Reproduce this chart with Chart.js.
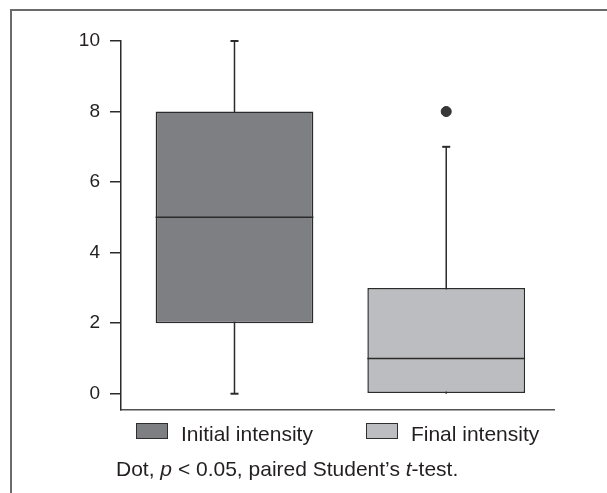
<!DOCTYPE html>
<html>
<head>
<meta charset="utf-8">
<script src="https://cdn.jsdelivr.net/npm/chart.js@4.4.1/dist/chart.umd.min.js"></script>
<style>
  html, body { margin: 0; padding: 0; background: #fff; }
  body { width: 607px; height: 493px; position: relative; overflow: hidden;
         font-family: 'Liberation Sans', Arial, sans-serif; color: #231f20; }
  #frame { position: absolute; left: 10px; top: 9px; width: 640px; height: 520px;
           border-top: 2px solid #6b6b6b; border-left: 2px solid #6b6b6b; }
  #wrap { position: absolute; left: 0; top: 0; width: 607px; height: 431px; }
  #legend { position: absolute; left: 136px; top: 423px; display: flex; align-items: flex-start;
            font-size: 21px; line-height: 21px; white-space: nowrap; }
  .item { display: flex; align-items: flex-start; margin-right: 53px; }
  .swatch { box-sizing: border-box; width: 32px; height: 16px; border: 1.5px solid #2e2e2e; margin-right: 13px; }
  #caption { position: absolute; left: 116px; top: 458px; font-size: 21px; line-height: 21px; white-space: nowrap; }
</style>
</head>
<body>
<div id="frame"></div>
<div id="wrap"><canvas id="box-chart"></canvas></div>
<div id="legend"></div>
<div id="caption">Dot, <i>p</i> &lt; 0.05, paired Student’s <i>t</i>-test.</div>
<script>
// box plot summary per group
var groups = ['Initial intensity', 'Final intensity'];
var positions = [1, 2];
var mins = [0, 0];
var q1s = [2, 0];
var medians = [5, 1];
var q3s = [8, 3];
var maxs = [10, 7];
var outliers = [[], [8]];
var boxColors = ['#7e7f83', '#bcbdc0'];
var yTicks = [0, 2, 4, 6, 8, 10];

var lineColor = '#2b2b2b';

// whiskers (behind boxes) and medians (on top)
var boxPlotLines = {
    id: 'boxPlotLines',
    beforeDatasetsDraw(chart) {
        var ctx = chart.ctx, x = chart.scales.x, y = chart.scales.y;
        ctx.save();
        ctx.strokeStyle = lineColor;
        groups.forEach((g, i) => {
            var px = x.getPixelForValue(positions[i]);
            ctx.lineWidth = 1.5;
            ctx.beginPath();
            ctx.moveTo(px, y.getPixelForValue(mins[i]));
            ctx.lineTo(px, y.getPixelForValue(maxs[i]));
            ctx.stroke();
            ctx.lineWidth = 2;
            [[mins[i], q1s[i]], [maxs[i], q3s[i]]].forEach(([v, edge]) => {
                if (v === edge) return;
                var py = y.getPixelForValue(v);
                ctx.beginPath();
                ctx.moveTo(px - 4, py);
                ctx.lineTo(px + 4, py);
                ctx.stroke();
            });
        });
        ctx.restore();
    },
    afterDatasetsDraw(chart) {
        var ctx = chart.ctx, y = chart.scales.y;
        ctx.save();
        ctx.strokeStyle = lineColor;
        ctx.lineWidth = 1.5;
        groups.forEach((g, i) => {
            var bar = chart.getDatasetMeta(i).data[0];
            var props = bar.getProps(['x', 'width'], true);
            var py = y.getPixelForValue(medians[i]);
            ctx.beginPath();
            ctx.moveTo(props.x - props.width / 2, py);
            ctx.lineTo(props.x + props.width / 2, py);
            ctx.stroke();
        });
        ctx.restore();
    }
};

var boxDatasets = groups.map((label, i) => ({
    type: 'bar',
    label: label,
    data: [{ x: positions[i], y: [q1s[i], q3s[i]] }],
    backgroundColor: boxColors[i],
    borderColor: lineColor,
    borderWidth: 1.5,
    borderSkipped: false,
    grouped: false,
    categoryPercentage: 1,
    barPercentage: 0.745
}));

var outlierPoints = [];
outliers.forEach((vals, i) => vals.forEach(v => outlierPoints.push({ x: positions[i], y: v })));

var ctx = document.getElementById('box-chart').getContext('2d');

var boxChart = new Chart(ctx, {
    type: 'bar',
    data: {
        datasets: boxDatasets.concat([{
            type: 'scatter',
            label: 'Outliers',
            data: outlierPoints,
            pointRadius: 5,
            pointBackgroundColor: '#383838',
            pointBorderColor: '#2b2b2b',
            pointBorderWidth: 1
        }])
    },
    options: {
        responsive: true,
        maintainAspectRatio: false,
        animation: false,
        layout: {
            padding: { top: 41, right: 53, bottom: 11, left: 0 }
        },
        plugins: {
            legend: { display: false },
            tooltip: { enabled: false }
        },
        scales: {
            x: {
                type: 'linear',
                offset: false,
                min: 0.464,
                max: 2.509,
                afterBuildTicks: (scale) => { scale.ticks = positions.map(v => ({ value: v })); },
                afterFit: (scale) => { scale.height = 0; },
                grid: { display: false, offset: false },
                ticks: { display: false },
                border: { display: true, color: '#505050', width: 1.5 }
            },
            y: {
                min: -0.45,
                max: 10,
                afterBuildTicks: (scale) => { scale.ticks = yTicks.map(v => ({ value: v })); },
                afterFit: (scale) => { scale.width = 121; },
                grid: {
                    drawOnChartArea: false,
                    drawTicks: true,
                    tickLength: 11,
                    color: '#2b2b2b',
                    lineWidth: 1.5
                },
                border: { display: true, color: '#2b2b2b', width: 1.5 },
                ticks: {
                    padding: 10,
                    color: '#231f20',
                    font: { family: "'Liberation Sans', Arial, sans-serif", size: 19 }
                }
            }
        }
    },
    plugins: [boxPlotLines]
});

// legend built from the chart's own legend items (box datasets only)
var legendItems = Chart.defaults.plugins.legend.labels.generateLabels(boxChart)
    .filter(item => item.datasetIndex < groups.length);
var legendEl = document.getElementById('legend');
legendItems.forEach(item => {
    var el = document.createElement('div');
    el.className = 'item';
    var sw = document.createElement('span');
    sw.className = 'swatch';
    sw.style.background = item.fillStyle;
    var txt = document.createElement('span');
    txt.textContent = item.text;
    el.appendChild(sw);
    el.appendChild(txt);
    legendEl.appendChild(el);
});
</script>
</body>
</html>
